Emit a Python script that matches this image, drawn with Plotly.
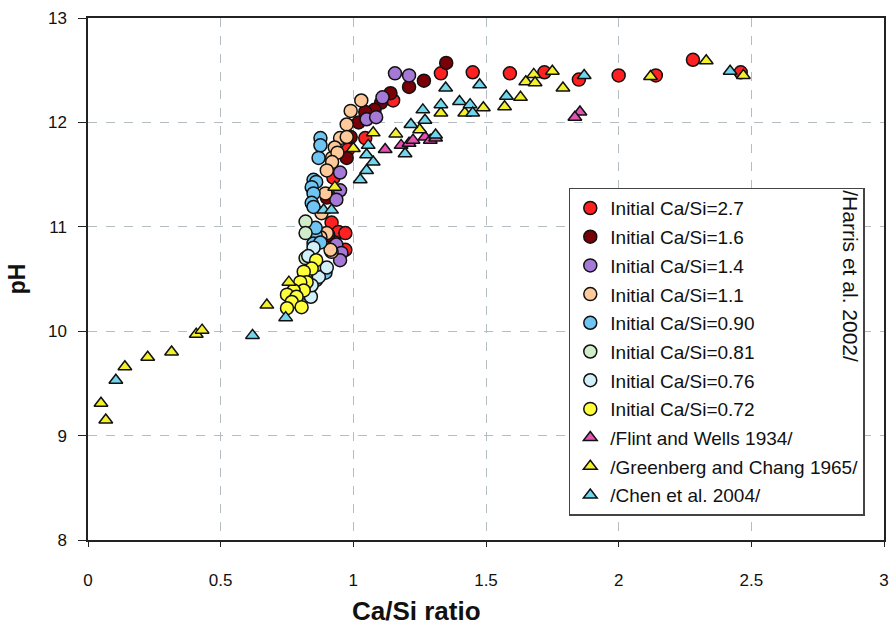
import plotly.graph_objects as go

# Harris et al. 2002: measured (Ca/Si, pH) for each initial Ca/Si ratio
ca27_x = [1.33, 1.45, 1.59, 1.72, 1.85, 2.00, 2.14, 2.28, 2.46, 1.15, 1.045, 0.98, 0.925, 0.918, 0.944, 0.97, 0.93, 0.97, 0.90]
ca27_y = [12.47, 12.48, 12.47, 12.48, 12.41, 12.45, 12.45, 12.60, 12.48, 12.21, 11.85, 11.74, 11.47, 11.04, 10.95, 10.94, 10.85, 10.78, 11.30]

ca16_x = [1.35, 1.266, 1.21, 1.14, 1.105, 1.08, 1.045, 1.02, 0.99, 0.975, 0.90, 0.906]
ca16_y = [12.57, 12.40, 12.34, 12.28, 12.19, 12.12, 12.10, 12.00, 11.86, 11.66, 11.28, 10.92]

ca14_x = [1.157, 1.21, 1.11, 1.05, 1.086, 0.95, 0.95, 0.936, 0.936, 0.955, 0.95]
ca14_y = [12.47, 12.45, 12.24, 12.03, 12.05, 11.52, 11.35, 11.26, 10.83, 10.75, 10.68]

ca11_x = [1.03, 0.99, 0.975, 0.95, 0.93, 0.92, 0.975, 0.94, 0.92, 0.90, 0.895, 0.88, 0.90, 0.918, 0.876, 0.914]
ca11_y = [12.21, 12.11, 11.98, 11.85, 11.76, 11.66, 11.86, 11.71, 11.62, 11.54, 11.32, 11.13, 10.94, 10.76, 10.90, 10.78]

ca090_x = [0.876, 0.876, 0.869, 0.85, 0.86, 0.843, 0.85, 0.843, 0.85, 0.858, 0.85, 0.895, 0.895, 0.876, 0.858]
ca090_y = [11.85, 11.78, 11.66, 11.45, 11.43, 11.38, 11.32, 11.23, 11.19, 10.92, 10.84, 10.60, 10.56, 10.85, 10.99]

ca081_x = [0.82, 0.82, 0.82]
ca081_y = [11.05, 10.94, 10.70]

ca076_x = [0.85, 0.86, 0.813, 0.84, 0.87, 0.843, 0.858, 0.90, 0.83]
ca076_y = [10.80, 10.49, 10.37, 10.33, 10.52, 10.44, 10.63, 10.61, 10.72]

ca072_x = [0.86, 0.843, 0.813, 0.824, 0.80, 0.813, 0.775, 0.75, 0.786, 0.768, 0.805, 0.75]
ca072_y = [10.68, 10.60, 10.57, 10.47, 10.47, 10.39, 10.39, 10.35, 10.33, 10.28, 10.23, 10.22]

# Literature data
flint_x = [1.12, 1.18, 1.21, 1.225, 1.27, 1.29, 1.31, 1.854, 1.835]
flint_y = [11.74, 11.78, 11.80, 11.83, 11.86, 11.83, 11.85, 12.10, 12.05]

greenberg_x = [0.049, 0.067, 0.139, 0.225, 0.315, 0.408, 0.43, 0.674, 0.757, 0.93, 1.0, 1.075, 1.16, 1.25,
               1.33, 1.42, 1.49, 1.57, 1.63, 1.65, 1.68, 1.685, 1.75, 1.79, 2.12, 2.33, 2.47]
greenberg_y = [9.31, 9.15, 9.66, 9.75, 9.80, 9.97, 10.01, 10.25, 10.47, 11.38, 11.75, 11.90, 11.89, 11.93,
               12.09, 12.09, 12.14, 12.15, 12.24, 12.39, 12.46, 12.38, 12.49, 12.33, 12.44, 12.59, 12.45]

chen_x = [0.105, 0.62, 0.745, 0.888, 0.918, 1.026, 1.05, 1.05, 1.075, 1.056, 1.195, 1.217, 1.262, 1.27,
          1.31, 1.33, 1.348, 1.40, 1.44, 1.45, 1.476, 1.577, 1.87, 2.42]
chen_y = [9.53, 9.96, 10.13, 11.16, 11.16, 11.45, 11.54, 11.69, 11.62, 11.78, 11.70, 11.98, 12.12, 12.02,
          11.88, 12.17, 12.33, 12.20, 12.17, 12.09, 12.36, 12.25, 12.45, 12.49]

x_ticks = [0, 0.5, 1, 1.5, 2, 2.5, 3]
x_tick_text = ["0", "0.5", "1", "1.5", "2", "2.5", "3"]
y_ticks = [8, 9, 10, 11, 12, 13]

series = [
    ("Initial Ca/Si=2.7", ca27_x, ca27_y, "circle", "#ff2121"),
    ("Initial Ca/Si=1.6", ca16_x, ca16_y, "circle", "#7a0008"),
    ("Initial Ca/Si=1.4", ca14_x, ca14_y, "circle", "#a47ad6"),
    ("Initial Ca/Si=1.1", ca11_x, ca11_y, "circle", "#ffc99a"),
    ("Initial Ca/Si=0.90", ca090_x, ca090_y, "circle", "#6ec4f2"),
    ("Initial Ca/Si=0.81", ca081_x, ca081_y, "circle", "#d0ecc8"),
    ("Initial Ca/Si=0.76", ca076_x, ca076_y, "circle", "#d2f0fa"),
    ("Initial Ca/Si=0.72", ca072_x, ca072_y, "circle", "#ffff3a"),
    ("/Flint and Wells 1934/", flint_x, flint_y, "triangle-up", "#e352b4"),
    ("/Greenberg and Chang 1965/", greenberg_x, greenberg_y, "triangle-up", "#f4f02a"),
    ("/Chen et al. 2004/", chen_x, chen_y, "triangle-up", "#6fd6ee"),
]

fig = go.Figure()
for i, (name, xs, ys, sym, col) in enumerate(series):
    fig.add_trace(go.Scatter(
        x=xs, y=ys, mode="markers", name=name, legendgroup=f"g{i}",
        marker=dict(symbol=sym, color=col, size=13 if sym == "circle" else 12,
                    line=dict(color="#111111", width=1.5)),
    ))

FONT = "Liberation Sans, Arial, sans-serif"

fig.update_layout(
    width=895, height=628,
    margin=dict(l=88, r=6, t=18, b=88),
    plot_bgcolor="white", paper_bgcolor="white",
    font=dict(family=FONT, size=17, color="#111111"),
    legend=dict(
        x=0.604, y=0.675, xanchor="left", yanchor="top",
        bgcolor="white", bordercolor="#444444", borderwidth=1.5,
        font=dict(family=FONT, size=19, color="#111111"),
        tracegroupgap=1, traceorder="grouped",
    ),
    xaxis=dict(
        range=[0, 3], tickvals=x_ticks, ticktext=x_tick_text,
        showgrid=True, gridcolor="#b4bec2", griddash="dash", gridwidth=1,
        showline=True, linecolor="#222222", linewidth=1.5, mirror=True,
        ticks="outside", ticklen=5, tickcolor="#222222",
        ticklabelstandoff=19, zeroline=False,
    ),
    yaxis=dict(
        range=[8, 13], tickvals=y_ticks,
        showgrid=True, gridcolor="#b4bec2", griddash="dash", gridwidth=1,
        showline=True, linecolor="#222222", linewidth=1.5, mirror=True,
        ticks="outside", ticklen=8, tickcolor="#222222",
        ticklabelstandoff=8, zeroline=False,
        title=dict(text="<b>pH</b>", font=dict(size=23), standoff=16),
    ),
    annotations=[
        dict(text="/Harris et al. 2002/", textangle=90,
             x=0.975, y=0.506, xref="paper", yref="paper",
             showarrow=False, font=dict(family=FONT, size=21, color="#111111")),
        dict(text="<b>Ca/Si ratio</b>",
             x=0.413, y=-0.136, xref="paper", yref="paper",
             xanchor="center", yanchor="middle",
             showarrow=False, font=dict(family=FONT, size=26, color="#111111")),
    ],
)

fig.write_html("out.html")
